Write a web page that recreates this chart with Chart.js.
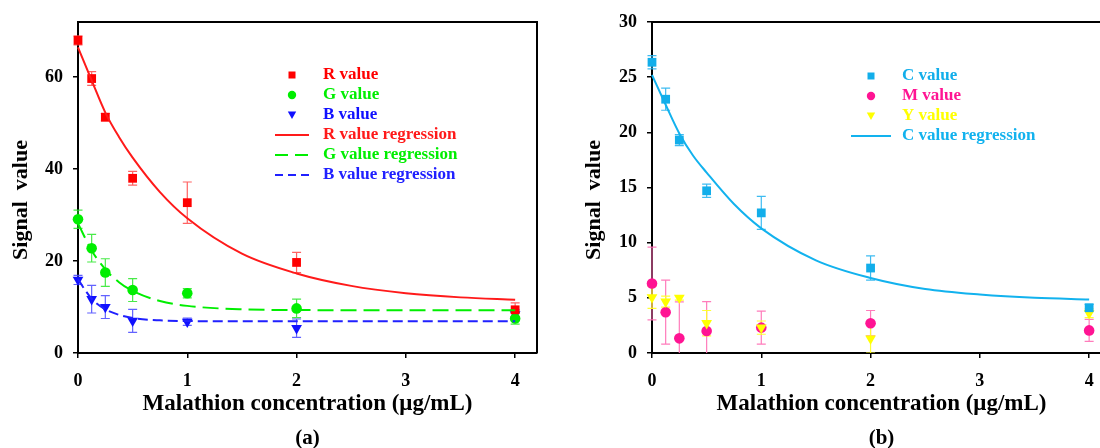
<!DOCTYPE html>
<html><head><meta charset="utf-8">
<script src="https://cdn.jsdelivr.net/npm/chart.js@4"></script>
<style>
html,body{margin:0;padding:0;width:1100px;height:448px;overflow:hidden;background:#fff;}
#ca{position:absolute;left:0;top:0;}
#cb{position:absolute;left:560px;top:0;}
</style></head><body>
<canvas id="ca" width="550" height="448" style="width:550px;height:448px"></canvas>
<canvas id="cb" width="560" height="448" style="width:560px;height:448px"></canvas>
<script>
// ---------- data ----------
const concentrations = [0, 0.125, 0.25, 0.5, 1, 2, 4];
const xTickValues = [0, 1, 2, 3, 4];
const yTicksA = [0, 20, 40, 60];
const yTicksB = [0, 5, 10, 15, 20, 25, 30];

const rValues = [68.0, 59.7, 51.3, 38.0, 32.7, 19.7, 9.4];
const rErrors = [1.0, 1.5, 0.8, 1.5, 4.5, 2.2, 1.5];
const gValues = [29.1, 22.8, 17.5, 13.7, 13.0, 9.7, 7.5];
const gErrors = [2.0, 3.0, 3.0, 2.5, 1.0, 2.0, 1.2];
const bValues = [15.9, 11.7, 10.0, 7.0, 6.8, 5.4, 8.4];
const bErrors = [1.0, 3.0, 2.5, 2.5, 0.8, 2.0, 1.0];

const cValues = [26.35, 23.0, 19.3, 14.7, 12.7, 7.7, 4.1];
const cErrors = [0.6, 1.0, 0.5, 0.6, 1.5, 1.1, 0.3];
const mValues = [6.3, 3.7, 1.33, 2.0, 2.3, 2.7, 2.05];
const mErrors = [3.3, 2.9, 3.3, 2.65, 1.5, 1.15, 1.0];
const yValues = [5.05, 4.65, 5.0, 2.7, 2.3, 1.3, 3.6];
const yErrors = [1.0, 0.5, 0.2, 1.15, 0.6, 1.3, 0.4];

// regression curves
const fitX = [0, 0.125, 0.25, 0.375, 0.5, 0.75, 1, 1.5, 2, 2.5, 3, 3.5, 4];
const rFit = [66.5, 59.3, 52.3, 47.0, 42.5, 35.0, 29.3, 21.6, 17.3, 14.6, 13.0, 12.1, 11.6];
const gFit = [28.2, 22.3, 18.2, 15.4, 13.5, 11.3, 10.25, 9.5, 9.35, 9.3, 9.3, 9.3, 9.3];
const bFit = [16.0, 11.8, 9.5, 8.3, 7.6, 7.1, 6.95, 6.9, 6.9, 6.9, 6.9, 6.9, 6.9];
const cFit = [25.2, 22.5, 19.9, 17.9, 16.35, 13.5, 11.3, 8.4, 6.8, 5.8, 5.3, 5.0, 4.85];

const FONT = 'Liberation Serif';

// ---------- helpers ----------
function pts(xs, ys) { return xs.map((x, i) => ({x: x, y: ys[i]})); }

function scatterSet(label, values, errors, color, errColor, style, radius, rot, order) {
  return {
    type: 'scatter', label: label, data: pts(concentrations, values), errors: errors,
    errColor: errColor, backgroundColor: color, borderColor: color, borderWidth: 0,
    pointStyle: style, pointRadius: radius, pointRotation: rot || 0, pointHoverRadius: radius,
    clip: false, order: order, legendKind: 'marker'
  };
}
function fitSet(label, values, color, dash, legendDash, order) {
  return {
    type: 'line', label: label, data: pts(fitX, values), borderColor: color, backgroundColor: color,
    borderWidth: 2, borderDash: dash, pointRadius: 0, cubicInterpolationMode: 'monotone',
    fill: false, order: order, legendKind: 'line', legendDash: legendDash, clip: false
  };
}

const errorBarPlugin = {
  id: 'errorBars',
  beforeDatasetsDraw(chart) {
    const ctx = chart.ctx, xs = chart.scales.x, ys = chart.scales.y, a = chart.chartArea;
    ctx.save();
    ctx.beginPath();
    ctx.rect(a.left - 20, a.top, a.right - a.left + 40, a.bottom - a.top);
    ctx.clip();
    chart.data.datasets.forEach(ds => {
      if (!ds.errors) return;
      ctx.strokeStyle = ds.errColor;
      ctx.lineWidth = 1.2;
      ds.data.forEach((p, i) => {
        const e = ds.errors[i];
        const px = xs.getPixelForValue(p.x);
        const t = ys.getPixelForValue(p.y + e);
        const b = ys.getPixelForValue(p.y - e);
        ctx.beginPath();
        ctx.moveTo(px, t); ctx.lineTo(px, b);
        ctx.moveTo(px - 4.5, t); ctx.lineTo(px + 4.5, t);
        ctx.moveTo(px - 4.5, b); ctx.lineTo(px + 4.5, b);
        ctx.stroke();
      });
    });
    ctx.restore();
  }
};

const framePlugin = {
  id: 'frame',
  afterDraw(chart, args, opts) {
    const ctx = chart.ctx, a = chart.chartArea;
    ctx.save();
    ctx.strokeStyle = '#000';
    ctx.lineWidth = 2;
    ctx.beginPath();
    ctx.moveTo(a.left, a.top); ctx.lineTo(a.right, a.top); ctx.lineTo(a.right, a.bottom);
    ctx.stroke();
    ctx.fillStyle = '#000';
    // y-axis title
    ctx.font = 'bold 22px "' + FONT + '"';
    ctx.textAlign = 'center';
    ctx.textBaseline = 'alphabetic';
    ctx.save();
    ctx.translate(opts.yTitleX, 200);
    ctx.rotate(-Math.PI / 2);
    ctx.fillText('Signal  value', 0, 0);
    ctx.restore();
    // panel caption
    ctx.font = 'bold 21px "' + FONT + '"';
    ctx.textBaseline = 'middle';
    ctx.fillText(opts.caption, (a.left + a.right) / 2, 439);
    ctx.restore();
  }
};

const innerLegendPlugin = {
  id: 'innerLegend',
  afterDraw(chart, args, opts) {
    const ctx = chart.ctx;
    ctx.save();
    ctx.font = 'bold 17px "' + FONT + '"';
    ctx.textBaseline = 'middle';
    ctx.textAlign = 'left';
    chart.data.datasets.forEach((ds, i) => {
      const y = opts.y0 + i * opts.dy;
      const cx = opts.cx;
      ctx.fillStyle = ds.borderColor;
      ctx.strokeStyle = ds.borderColor;
      if (ds.legendKind === 'marker') {
        ctx.beginPath();
        if (ds.pointStyle === 'rect') {
          ctx.rect(cx - 3.5, y - 3.5, 7, 7);
        } else if (ds.pointStyle === 'circle') {
          ctx.arc(cx, y, 4.2, 0, Math.PI * 2);
        } else {
          ctx.moveTo(cx - 4.2, y - 3.5); ctx.lineTo(cx + 4.2, y - 3.5); ctx.lineTo(cx, y + 4);
          ctx.closePath();
        }
        ctx.fill();
      } else {
        ctx.lineWidth = 2;
        ctx.setLineDash(ds.legendDash || []);
        ctx.beginPath();
        ctx.moveTo(cx - opts.half, y); ctx.lineTo(cx + opts.half, y);
        ctx.stroke();
        ctx.setLineDash([]);
      }
      ctx.fillText(ds.label, cx + opts.textOff, y);
    });
    ctx.restore();
  }
};

function makeOptions(cfg) {
  const tickFont = {family: FONT, weight: 'bold', size: 18};
  return {
    responsive: false,
    animation: false,
    events: [],
    layout: {padding: {top: 22, right: cfg.padRight, left: 0, bottom: 0}},
    plugins: {
      legend: {display: false},
      tooltip: {enabled: false},
      frame: {caption: cfg.caption, yTitleX: cfg.yTitleX},
      innerLegend: cfg.legend
    },
    scales: {
      x: {
        type: 'linear', min: 0, max: 4.2,
        afterBuildTicks: s => { s.ticks = xTickValues.map(v => ({value: v})); },
        afterFit: s => { s.height = 95; },
        ticks: {font: tickFont, color: '#000', padding: 13, callback: v => String(v), maxRotation: 0},
        grid: {drawOnChartArea: false, drawTicks: true, tickLength: 5, color: '#000', lineWidth: 1.5},
        border: {color: '#000', width: 2},
        title: {display: true, text: 'Malathion concentration (\u03bcg/mL)', color: '#000',
                font: {family: FONT, weight: 'bold', size: 23}, padding: {top: 0, bottom: 30}}
      },
      y: {
        type: 'linear', min: 0, max: cfg.yMax,
        afterBuildTicks: s => { s.ticks = cfg.yTicks.map(v => ({value: v})); },
        afterFit: s => { s.width = cfg.yWidth; },
        ticks: {font: tickFont, color: '#000', padding: 10, callback: v => String(v)},
        grid: {drawOnChartArea: false, drawTicks: true, tickLength: 5, color: '#000', lineWidth: 1.5},
        border: {color: '#000', width: 2},
        title: {display: false}
      }
    }
  };
}

// ---------- panel (a) ----------
new Chart(document.getElementById('ca'), {
  type: 'scatter',
  data: {datasets: [
    scatterSet('R value', rValues, rErrors, '#ff0000', 'rgba(255,70,70,0.85)', 'rect', 6.2, 0, 3),
    scatterSet('G value', gValues, gErrors, '#00ee00', 'rgba(40,230,40,0.85)', 'circle', 5.3, 0, 4),
    scatterSet('B value', bValues, bErrors, '#1010ff', 'rgba(70,70,255,0.85)', 'triangle', 6.2, 180, 5),
    fitSet('R value regression', rFit, '#ff1a1a', [], [], 0),
    fitSet('G value regression', gFit, '#00ee00', [16, 7], [13, 7], 1),
    fitSet('B value regression', bFit, '#2020ff', [10, 5], [8, 5], 2)
  ]},
  options: makeOptions({padRight: 13, yMax: 72, yTicks: yTicksA, yWidth: 78, yTitleX: 27, caption: '(a)',
    legend: {cx: 292, y0: 75, dy: 20, half: 17, textOff: 31}}),
  plugins: [errorBarPlugin, framePlugin, innerLegendPlugin]
});

// ---------- panel (b) ----------
new Chart(document.getElementById('cb'), {
  type: 'scatter',
  data: {datasets: [
    scatterSet('C value', cValues, cErrors, '#12aeea', 'rgba(40,180,240,0.9)', 'rect', 6.2, 0, 0),
    scatterSet('M value', mValues, mErrors, '#ff1493', 'rgba(255,110,180,0.9)', 'circle', 5.3, 0, 2),
    scatterSet('Y value', yValues, yErrors, '#ffff00', 'rgba(255,255,40,0.95)', 'triangle', 6.2, 180, 1),
    fitSet('C value regression', cFit, '#12b2ee', [], [], 3)
  ]},
  options: makeOptions({padRight: 9, yMax: 30, yTicks: yTicksB, yWidth: 92, yTitleX: 40, caption: '(b)',
    legend: {cx: 311, y0: 76, dy: 20, half: 20, textOff: 31}}),
  plugins: [errorBarPlugin, framePlugin, innerLegendPlugin]
});
</script>
</body></html>
